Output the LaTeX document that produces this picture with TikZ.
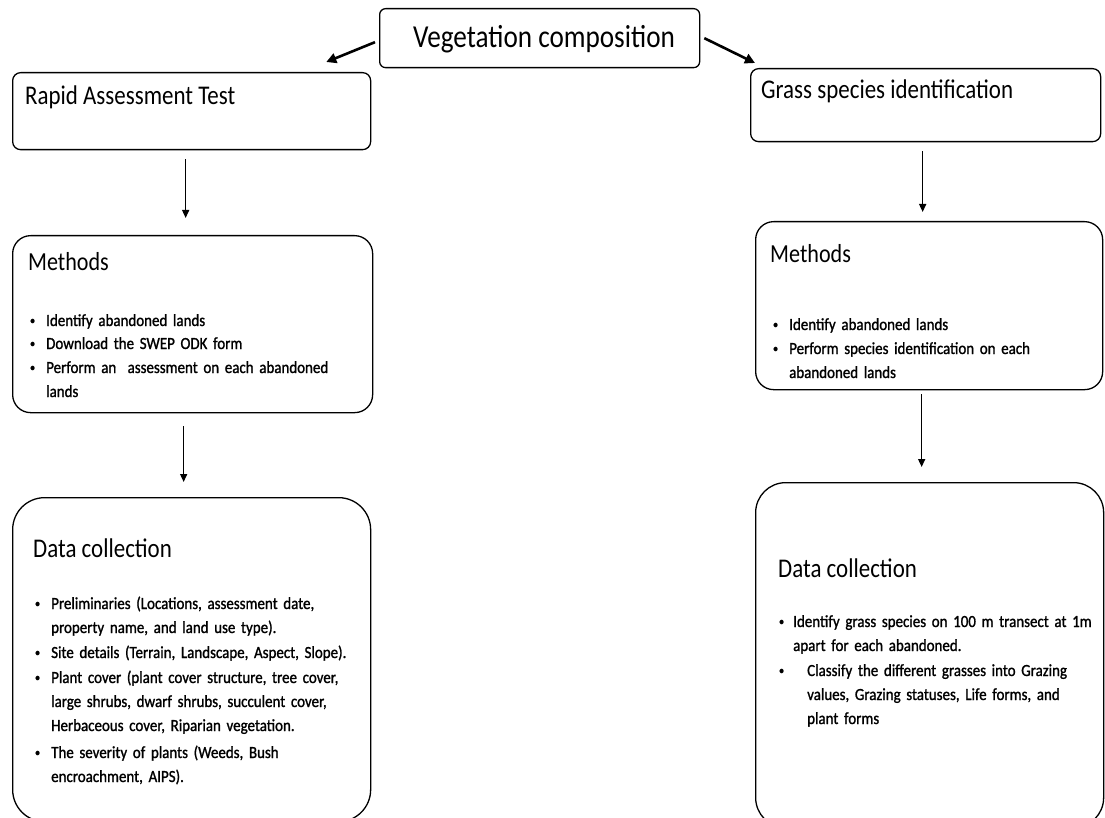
\documentclass[tikz,border=0pt]{standalone}
\usepackage{fontspec}
\setmainfont{Carlito}
\newfontfamily\headfont{Carlito}[FakeStretch=0.85]
\newfontfamily\itemfont{Carlito}[FakeStretch=0.88, FakeBold=1.2]
\usetikzlibrary{arrows.meta}

\tikzset{
  box/.style={draw, line width=1.3pt, rounded corners=#1, inner sep=0pt, anchor=north west},
  title/.style={font=\headfont\fontsize{32}{38}\selectfont, inner sep=0pt, anchor=base west},
  head/.style={font=\headfont\fontsize{27}{32}\selectfont, inner sep=0pt, anchor=base west},
  sub/.style={font=\headfont\fontsize{26}{31}\selectfont, inner sep=0pt, anchor=base west},
  item/.style={font=\itemfont\fontsize{17}{24}\selectfont, inner sep=0pt, anchor=base west,
               text width=#1},
  item/.default=330pt,
  flow/.style={line width=1.4pt, -{Triangle[length=8pt,width=7pt]}},
  bigflow/.style={line width=2.6pt, -{Triangle[length=10pt,width=10pt]}}
}
% small list dot hung to the left of an item
\newcommand\bul[1][11pt]{\llap{\raisebox{0.2ex}{\fontsize{12}{12}\selectfont\textbullet}\hspace{#1}}\ignorespaces}

\begin{document}
\begin{tikzpicture}[x=1pt,y=-1pt]
\useasboundingbox[fill=white] (0,0) rectangle (1105,818);

% frames
\node[box=6pt, minimum width=320pt, minimum height=59pt] (veg) at (379,8) {};
\node[box=8pt, minimum width=358pt, minimum height=77pt] (rat) at (12,72) {};
\node[box=8pt, minimum width=350pt, minimum height=73pt] (gsi) at (750,68) {};
\node[box=18pt, minimum width=360pt, minimum height=177pt] (lm) at (12,235) {};
\node[box=18pt, minimum width=347pt, minimum height=168pt] (rm) at (755,221) {};
\node[box=32pt, minimum width=358pt, minimum height=324pt] (ldc) at (12,497) {};
\node[box=30pt, minimum width=348pt, minimum height=345pt] (rdc) at (755,482) {};

% headings
\node[title] (vegt) at (413,48) {Vegetation composition};
\node[head] (ratt) at (25,105) {Rapid Assessment Test};
\node[head] (gsit) at (761,99) {Grass species identification};
\node[sub] (lmt) at (28,270) {Methods};
\node[sub] (rmt) at (770,262) {Methods};
\node[head] (ldct) at (33,557) {Data collection};
\node[head] (rdct) at (778,577) {Data collection};

% rapid assessment: methods
\node[item] (lm1) at (46,326) {\bul Identify abandoned lands};
\node[item] (lm2) at (46,349) {\bul Download the SWEP ODK form};
\node[item] (lm3) at (46,373) {\bul Perform an\ \ assessment on each abandoned\\lands};

% grass species: methods
\node[item] (rm1) at (789,330) {\bul Identify abandoned lands};
\node[item] (rm2) at (789,354) {\bul Perform species identification on each\\abandoned lands};

% rapid assessment: data collection
\node[item] (ld1) at (51,609) {\bul Preliminaries (Locations, assessment date,\\property name, and land use type).};
\node[item] (ld2) at (51,658) {\bul Site details (Terrain, Landscape, Aspect, Slope).};
\node[item] (ld3) at (51,683) {\bul Plant cover (plant cover structure, tree cover,\\large shrubs, dwarf shrubs, succulent cover,\\Herbaceous cover, Riparian vegetation.};
\node[item] (ld4) at (51,758) {\bul The severity of plants (Weeds, Bush\\encroachment, AIPS).};

% grass species: data collection
\node[item] (rd1) at (793,627) {\bul[9pt]Identify grass species on 100 m transect at 1m\\apart for each abandoned.};
\node[item] (rd2) at (807,676) {\bul[23pt]Classify the different grasses into Grazing\\values, Grazing statuses, Life forms, and\\plant forms};

% connectors
\draw[bigflow] ([xshift=-4pt,yshift=-4pt]veg.west) -- ([xshift=-45pt,yshift=10pt]rat.north east);
\draw[bigflow] ([xshift=4pt]veg.east) -- ([xshift=5pt,yshift=5pt]gsi.north west);
\draw[flow] ([xshift=-6pt,yshift=-9pt]rat.south) -- ([xshift=-7pt,yshift=17pt]lm.north);
\draw[flow] ([xshift=-9pt,yshift=-13pt]lm.south) -- ([xshift=-8pt,yshift=15pt]ldc.north);
\draw[flow] ([xshift=-3pt,yshift=-9pt]gsi.south) -- ([xshift=-6.5pt,yshift=9pt]rm.north);
\draw[flow] ([xshift=-7.5pt,yshift=-4pt]rm.south) -- ([xshift=-8pt,yshift=15pt]rdc.north);
\end{tikzpicture}
\end{document}
